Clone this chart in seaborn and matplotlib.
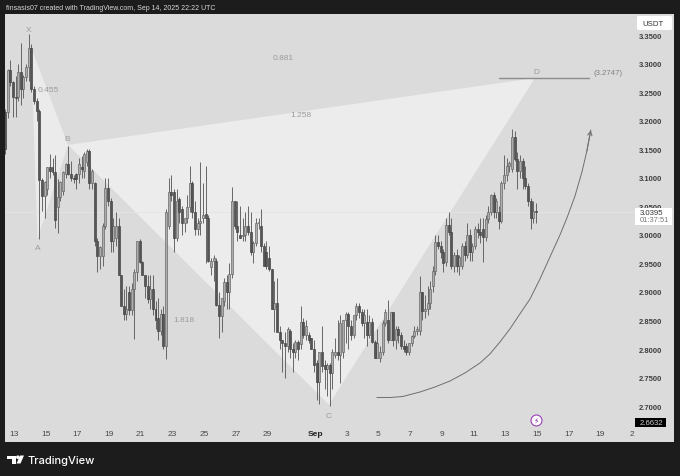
import numpy as np
import pandas as pd
import seaborn as sns
import matplotlib
matplotlib.use('Agg')
import matplotlib.pyplot as plt
from matplotlib.patches import Polygon, Rectangle, FancyBboxPatch

# 4h candles, first one sits 0.57 days before the "13" tick
opens = [3.215,3.215,3.289,3.268,3.242,3.242,3.285,3.255,3.276,3.294,
         3.327,3.255,3.235,3.217,3.096,3.068,3.081,3.119,3.119,3.11,
         3.049,3.067,3.077,3.107,3.124,3.107,3.10,3.107,3.107,3.118,
         3.112,3.128,3.147,3.09,3.09,2.99,2.963,2.963,3.015,3.082,
         3.06,2.99,2.995,3.015,2.93,2.875,2.862,2.90,2.868,2.905,
         2.935,2.99,2.952,2.93,2.91,2.888,2.905,2.87,2.855,2.832,
         2.862,2.806,3.016,3.075,3.075,2.995,3.063,3.045,3.02,3.03,
         3.048,3.09,3.04,3.01,3.02,3.03,3.036,3.03,2.944,2.955,
         2.955,2.878,2.858,2.885,2.918,2.90,2.932,3.06,3.015,3.0,
         2.998,3.0,3.015,3.005,2.97,2.985,3.02,3.015,2.98,2.97,
         2.96,2.94,2.87,2.88,2.83,2.815,2.81,2.805,2.832,2.80,
         2.795,2.812,2.808,2.848,2.825,2.825,2.82,2.80,2.775,2.742,
         2.795,2.772,2.765,2.772,2.758,2.79,2.795,2.79,2.795,2.85,
         2.862,2.84,2.825,2.86,2.875,2.865,2.845,2.848,2.825,2.848,
         2.813,2.785,2.785,2.795,2.845,2.85,2.815,2.865,2.815,2.835,
         2.825,2.805,2.806,2.794,2.81,2.823,2.832,2.832,2.90,2.866,
         2.87,2.88,2.91,2.937,2.988,2.98,2.97,2.952,3.018,3.005,
         2.945,2.965,2.945,2.945,2.98,2.965,3.0,2.97,2.98,3.01,
         3.005,3.01,2.997,3.028,3.04,3.07,3.04,3.04,3.025,3.09,
         3.105,3.12,3.116,3.172,3.133,3.112,3.13,3.10,3.085,3.06,
         3.03,3.042]
highs = [3.22,3.29,3.306,3.27,3.278,3.299,3.336,3.28,3.30,3.352,
         3.334,3.26,3.24,3.22,3.10,3.095,3.119,3.142,3.135,3.14,
         3.098,3.095,3.112,3.125,3.156,3.13,3.105,3.108,3.135,3.138,
         3.145,3.15,3.15,3.115,3.092,2.995,2.98,3.02,3.10,3.10,
         3.065,3.03,3.04,3.03,2.93,2.905,2.91,2.91,2.915,2.94,
         2.99,2.992,2.955,2.93,2.93,2.93,2.93,2.885,2.89,2.87,
         2.875,3.045,3.10,3.105,3.08,3.08,3.066,3.05,3.03,3.07,
         3.12,3.095,3.06,3.03,3.128,3.09,3.12,3.035,2.96,2.965,
         2.96,2.90,2.89,2.925,2.93,2.95,3.083,3.06,3.06,3.05,
         3.03,3.04,3.05,3.04,2.99,3.03,3.03,3.045,2.985,2.99,
         2.98,2.94,2.92,2.925,2.84,2.815,2.83,2.838,2.835,2.81,
         2.815,2.815,2.875,2.855,2.85,2.83,2.82,2.815,2.78,2.795,
         2.84,2.78,2.775,2.775,2.80,2.82,2.85,2.86,2.85,2.865,
         2.865,2.85,2.86,2.88,2.88,2.87,2.87,2.87,2.86,2.855,
         2.815,2.835,2.805,2.85,2.87,2.886,2.865,2.865,2.84,2.84,
         2.83,2.815,2.81,2.81,2.825,2.84,2.84,2.928,2.90,2.895,
         2.91,2.92,2.945,3.0,3.0,2.99,2.975,3.03,3.04,3.03,
         2.97,2.975,2.965,2.985,2.99,3.02,3.01,2.985,3.015,3.02,
         3.03,3.03,3.035,3.05,3.072,3.075,3.065,3.05,3.095,3.14,
         3.135,3.13,3.186,3.182,3.145,3.14,3.135,3.12,3.09,3.065,
         3.06,3.055]
lows = [3.142,3.205,3.26,3.207,3.207,3.235,3.228,3.24,3.27,3.27,
        3.25,3.23,3.20,2.993,3.042,3.03,3.07,3.10,3.105,3.012,
        3.004,3.06,3.07,3.10,3.105,3.095,3.09,3.08,3.09,3.10,
        3.10,3.12,3.08,3.08,2.98,2.935,2.94,2.945,3.01,3.05,
        2.97,2.97,2.98,2.93,2.875,2.85,2.85,2.86,2.86,2.818,
        2.92,2.95,2.93,2.89,2.88,2.87,2.86,2.835,2.815,2.825,
        2.80,2.783,3.01,3.06,2.97,2.99,3.02,3.0,3.005,3.02,
        3.04,3.03,3.0,3.0,3.0,3.02,2.95,2.952,2.93,2.92,
        2.875,2.82,2.83,2.875,2.87,2.87,2.925,3.01,2.99,2.995,
        2.99,2.99,3.0,2.965,2.95,2.98,3.01,2.97,2.945,2.94,
        2.937,2.87,2.83,2.83,2.80,2.76,2.75,2.795,2.785,2.76,
        2.785,2.78,2.80,2.82,2.815,2.81,2.80,2.76,2.71,2.703,
        2.76,2.73,2.717,2.70,2.73,2.785,2.78,2.74,2.785,2.81,
        2.80,2.815,2.82,2.85,2.855,2.84,2.82,2.805,2.82,2.81,
        2.785,2.785,2.777,2.79,2.84,2.81,2.815,2.805,2.80,2.81,
        2.80,2.795,2.79,2.79,2.805,2.82,2.825,2.825,2.85,2.855,
        2.86,2.87,2.90,2.93,2.975,2.96,2.935,2.945,3.0,2.94,
        2.935,2.935,2.93,2.94,2.955,2.96,2.955,2.955,2.975,2.995,
        2.985,2.953,2.99,3.02,3.035,3.03,3.03,3.01,3.02,3.08,
        3.095,3.11,3.11,3.13,3.08,3.10,3.08,3.08,3.05,3.01,
        3.02,3.02]
closes = [3.15,3.289,3.268,3.242,3.24,3.285,3.255,3.276,3.294,3.327,
          3.255,3.235,3.217,3.096,3.068,3.093,3.119,3.112,3.11,3.026,
          3.067,3.093,3.11,3.124,3.107,3.10,3.098,3.098,3.124,3.115,
          3.142,3.147,3.09,3.112,2.99,2.963,2.978,3.015,3.082,3.06,
          2.99,3.015,3.015,2.93,2.875,2.862,2.87,2.868,2.905,2.935,
          2.99,2.952,2.93,2.91,2.888,2.905,2.87,2.85,2.832,2.862,
          2.806,3.04,3.075,3.07,2.995,3.06,3.04,3.02,3.03,3.048,
          3.09,3.04,3.01,3.02,3.025,3.035,3.03,2.955,2.955,2.96,
          2.878,2.858,2.89,2.918,2.90,2.932,3.06,3.015,3.005,2.995,
          3.0,3.015,3.005,2.97,2.985,3.02,3.022,2.98,2.945,2.945,
          2.94,2.87,2.88,2.83,2.815,2.81,2.805,2.835,2.80,2.795,
          2.812,2.80,2.848,2.825,2.84,2.815,2.80,2.772,2.742,2.795,
          2.77,2.765,2.772,2.758,2.795,2.795,2.79,2.845,2.85,2.862,
          2.84,2.825,2.86,2.875,2.865,2.845,2.86,2.825,2.848,2.813,
          2.785,2.81,2.795,2.845,2.865,2.815,2.865,2.815,2.835,2.825,
          2.805,2.80,2.794,2.81,2.823,2.832,2.835,2.90,2.866,2.87,
          2.88,2.905,2.937,2.988,2.98,2.97,2.95,3.018,3.005,2.945,
          2.965,2.945,2.962,2.98,2.965,3.0,2.97,2.98,3.01,3.005,
          3.0,2.997,3.028,3.04,3.07,3.04,3.06,3.025,3.09,3.105,
          3.12,3.125,3.172,3.133,3.112,3.13,3.10,3.085,3.06,3.03,
          3.042,3.0395]

# harmonic pattern, days since Aug 13
xab_days = [1.07, 3.41, 1.48]
xab_prices = [3.329, 3.1575, 2.993]
bcd_days = [3.41, 19.87, 32.87]
bcd_prices = [3.1575, 2.7025, 3.2747]
d_level = 3.2747
d_line_days = [30.6, 36.3]

# hand drawn curved arrow
curve_days = [22.9, 23.72, 24.54, 25.62, 26.56, 27.51, 28.45, 29.40, 30.03, 30.66, 31.29,
              31.92, 32.56, 33.19, 33.82, 34.45, 34.89, 35.40, 35.84, 36.15, 36.40]
curve_prices = [2.7151, 2.7151, 2.7169, 2.7248, 2.7335, 2.744, 2.758, 2.7755, 2.7913, 2.8122, 2.835,
                2.8613, 2.8875, 2.9226, 2.9611, 2.9996, 3.0294, 3.0679, 3.11, 3.1467, 3.1835]

price_ticks = [3.35, 3.30, 3.25, 3.20, 3.15, 3.10, 3.05, 3.00, 2.95, 2.90, 2.85, 2.80, 2.75, 2.70]
date_ticks = [0, 2, 4, 6, 8, 10, 12, 14, 16, 19, 21, 23, 25, 27, 29, 31, 33, 35, 37, 39]
date_labels = ['13', '15', '17', '19', '21', '23', '25', '27', '29', 'Sep', '3', '5', '7', '9', '11', '13', '15', '17', '19', '2']
last_price = 3.0395

sns.set_theme(style='white')
plt.rcParams['font.family'] = ['Liberation Sans', 'DejaVu Sans']

df = pd.DataFrame({'open': opens, 'high': highs, 'low': lows, 'close': closes})
df['day'] = -0.57 + df.index / 6
df['up'] = df['close'] >= df['open']

dark = '#1c1c1c'
panel = '#dbdbdb'
fig = plt.figure(figsize=(6.8, 4.77), dpi=100, facecolor=dark)
ax = fig.add_axes([5 / 680, (477 - 443) / 477, 669 / 680, 428 / 477], facecolor=panel)
ax.set_xlim(-0.568, 41.65)
ax.set_ylim(2.6372, 3.3868)

ax.fill(xab_days, xab_prices, color='#ebebeb', lw=0, zorder=1)
ax.fill(bcd_days, bcd_prices, color='#ececec', lw=0, zorder=1)
ax.axhline(last_price, color='#e4e4e4', lw=0.6, zorder=1.5)

# wicks then bodies
ax.vlines(df['day'], df['low'], df['high'], color='#666666', lw=0.7, zorder=2)
up = df[df['up']]
down = df[~df['up']]
ax.bar(up['day'], up['close'] - up['open'], bottom=up['open'], width=0.125,
       color='#adadad', edgecolor='#5f5f5f', lw=0.45, zorder=3)
ax.bar(down['day'], down['open'] - down['close'], bottom=down['close'], width=0.125,
       color='#555555', edgecolor='#3e3e3e', lw=0.45, zorder=3)

ax.plot(d_line_days, [d_level, d_level], color='#8c8c8c', lw=1, zorder=2)
sns.lineplot(x=curve_days, y=curve_prices, ax=ax, color='#6f6f6f', lw=0.7, sort=False, errorbar=None, zorder=4)
ax.annotate('', xy=(curve_days[-1], curve_prices[-1]), xytext=(curve_days[-2], curve_prices[-2]),
            arrowprops=dict(arrowstyle='->', color='#6f6f6f', lw=0.7, mutation_scale=8, shrinkA=0, shrinkB=0), zorder=4)

note = dict(color='#9b9b9b', fontsize=6, ha='center', va='center', zorder=5)
ax.text(0.95, 3.36, 'X', **note)
ax.text(1.5, 2.977, 'A', **note)
ax.text(3.35, 3.168, 'B', **note)
ax.text(19.88, 2.683, 'C', **note)
ax.text(32.95, 3.286, 'D', **note)
ax.text(37.47, 3.285, '(3.2747)', color='#808080', fontsize=5.6, ha='center', va='center', zorder=5)
ax.text(2.15, 3.255, '0.455', **note)
ax.text(17.0, 3.3105, '0.881', **note)
ax.text(18.1, 3.21, '1.258', **note)
ax.text(10.7, 2.851, '1.818', **note)

ax.scatter([32.95], [2.676], s=62, color='white', edgecolor='#9c3fb5', lw=0.8, zorder=5)
ax.text(32.95, 2.676, '\u26a1', color='#8e24aa', fontsize=5.5, ha='center', va='center', zorder=6,
        family='DejaVu Sans')

ax.yaxis.tick_right()
ax.set_yticks(price_ticks)
ax.set_yticklabels(['%.4f' % p for p in price_ticks])
ax.tick_params(axis='y', length=0, pad=-25, labelsize=5.5, labelcolor='#3f3f3f')
for lab in ax.get_yticklabels():
    lab.set_ha('left')
    lab.set_fontweight('bold')
ax.set_xticks(date_ticks)
ax.set_xticklabels(date_labels)
ax.tick_params(axis='x', length=0, pad=-8.5, labelsize=6, labelcolor='#4a4a4a')
for lab in ax.get_xticklabels():
    if lab.get_text() == 'Sep':
        lab.set_fontweight('bold')
        lab.set_color('#222222')
sns.despine(ax=ax, left=True, bottom=True, right=True, top=True)
ax.grid(False)

# chrome on an overlay in pixel coordinates
top = fig.add_axes([0, 0, 1, 1], facecolor='none')
top.set_xlim(0, 680)
top.set_ylim(477, 0)
top.axis('off')

top.text(6, 8.5, 'finsasis07 created with TradingView.com, Sep 14, 2025 22:22 UTC',
         color='#d8d8d8', fontsize=5.05, va='center')
top.add_patch(FancyBboxPatch((637, 17), 35, 14, boxstyle='round,pad=0,rounding_size=1.5', fc='white', ec='none'))
top.text(642, 24.2, 'USDT', color='#333333', fontsize=5.6, va='center')
top.add_patch(Rectangle((635, 208.5), 37, 17.5, fc='white', ec='none'))
top.text(640, 213.3, '3.0395', color='#333333', fontsize=5.6, va='center')
top.text(640, 220.8, '01:37:51', color='#777777', fontsize=5.4, va='center')
top.add_patch(Rectangle((635, 419), 31, 9, fc='black', ec='none'))
top.text(640, 423.7, '2.6632', color='#cccccc', fontsize=5.6, va='center')

# TradingView logo
top.add_patch(Polygon([(7, 456.5), (16, 456.5), (16, 464.5), (11.5, 464.5), (11.5, 460), (7, 460)], fc='white', ec='none'))
top.add_patch(plt.Circle((17.8, 458.2), 1.8, fc='white', ec='none'))
top.add_patch(Polygon([(20, 456.5), (24, 456.5), (20.5, 464.5), (16.5, 464.5)], fc='white', ec='none'))
top.text(27, 460.6, 'TradingView', color='white', family='Inter', fontsize=8, fontweight='medium', va='center')

fig.savefig('out.png', dpi=100, facecolor=dark)
